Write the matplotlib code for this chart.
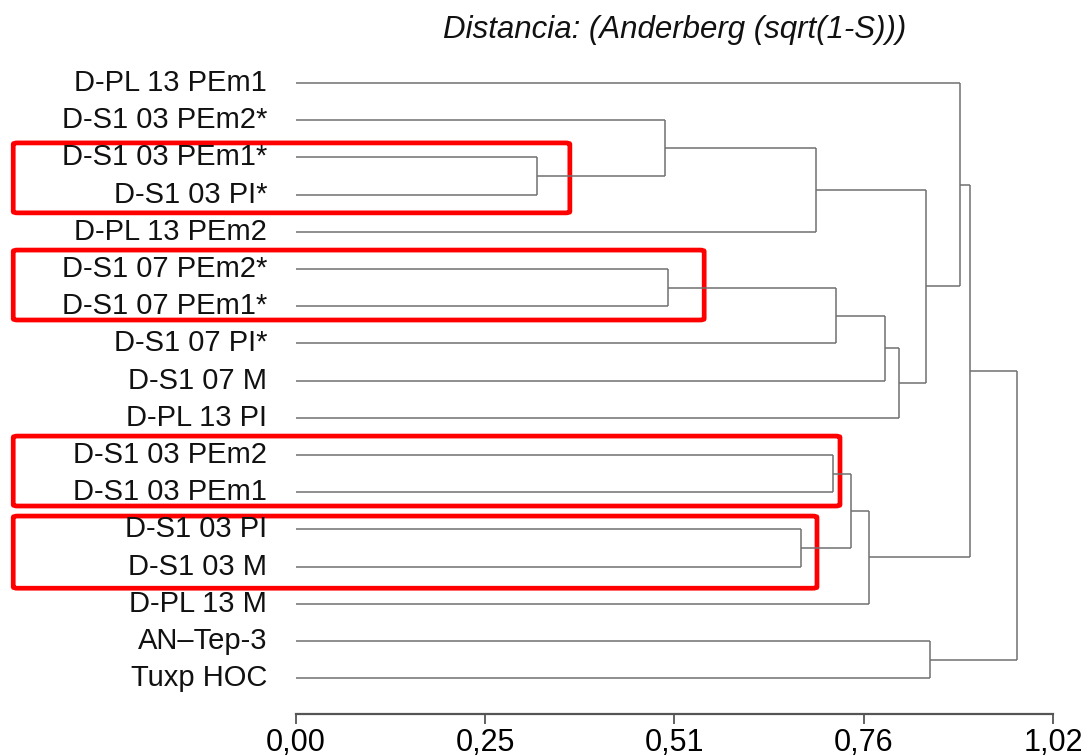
import numpy as np
import matplotlib; matplotlib.use("Agg")
import matplotlib.pyplot as plt
from matplotlib.patches import FancyBboxPatch
plt.rcParams.update({"font.family": ["Liberation Sans", "DejaVu Sans"]})

# leaves, top to bottom
labels = ["D-PL 13 PEm1", "D-S1 03 PEm2*", "D-S1 03 PEm1*", "D-S1 03 PI*", "D-PL 13 PEm2",
          "D-S1 07 PEm2*", "D-S1 07 PEm1*", "D-S1 07 PI*", "D-S1 07 M", "D-PL 13 PI",
          "D-S1 03 PEm2", "D-S1 03 PEm1", "D-S1 03 PI", "D-S1 03 M", "D-PL 13 M",
          "AN\u2013Tep-3", "Tuxp HOC"]
# merges: node ids 0..16 are leaves, merge k creates node 17+k
merge_a = [2, 1, 18, 5, 20, 21, 22, 19, 0, 10, 12, 26, 28, 25, 15, 30]
merge_b = [3, 17, 4, 6, 7, 8, 9, 23, 24, 11, 13, 27, 14, 29, 16, 31]
merge_d = [0.325, 0.497, 0.701, 0.501, 0.728, 0.794, 0.812, 0.849, 0.895,
           0.724, 0.680, 0.748, 0.772, 0.908, 0.854, 0.971]
ticks = [0.0, 0.255, 0.51, 0.765, 1.02]
tick_labels = ["0,00", "0,25", "0,51", "0,76", "1,02"]
# highlighted groups: (top, bottom in leaf units, right edge in distance units)
box_y0 = [1.61, 4.49, 9.49, 11.64]
box_y1 = [3.49, 6.37, 11.37, 13.58]
box_x1 = [0.369, 0.550, 0.733, 0.702]

n = len(labels)
ypos = list(range(n)) + [0.0] * len(merge_d)
xpos = [0.0] * n + list(merge_d)

fig = plt.figure(figsize=(10.92, 7.56), dpi=100)
ax = fig.add_axes([0.27106, 0.0556, 0.69322, 0.8641])
LC = "#707070"
for k, (a, b, d) in enumerate(zip(merge_a, merge_b, merge_d)):
    node = n + k
    ypos[node] = (ypos[a] + ypos[b]) / 2
    for c in (a, b):
        ax.plot([xpos[c], d], [ypos[c], ypos[c]], color=LC, lw=1.1, solid_capstyle="butt")
    ax.plot([d, d], [ypos[a], ypos[b]], color=LC, lw=1.1, solid_capstyle="butt")

for i, lab in enumerate(labels):
    ax.text(-0.039, i, lab, ha="right", va="center", fontsize=21, color="#111")

for y0, y1, x1 in zip(box_y0, box_y1, box_x1):
    ax.add_patch(FancyBboxPatch((-0.381, y0), x1 + 0.381, y1 - y0, boxstyle="round,pad=0,rounding_size=0.006",
                                fill=False, ec="#ff0000", lw=3.4, clip_on=False, mutation_aspect=6))

ax.set_xlim(0, 1.02); ax.set_ylim(16.96, -0.6)
for s in ("top", "right", "left"): ax.spines[s].set_visible(False)
ax.spines["bottom"].set_bounds(0, 1.02); ax.spines["bottom"].set_color("#555"); ax.spines["bottom"].set_linewidth(1.6)
ax.set_yticks([])
ax.set_xticks(ticks); ax.set_xticklabels(tick_labels, fontsize=22)
ax.tick_params(axis="x", length=7.2, width=1.3, color="#555", pad=3)
fig.text(0.618, 0.96, "Distancia: (Anderberg (sqrt(1-S)))", ha="center", va="center",
         fontsize=22.5, style="italic", color="#111")
fig.savefig("out.png", dpi=100)
